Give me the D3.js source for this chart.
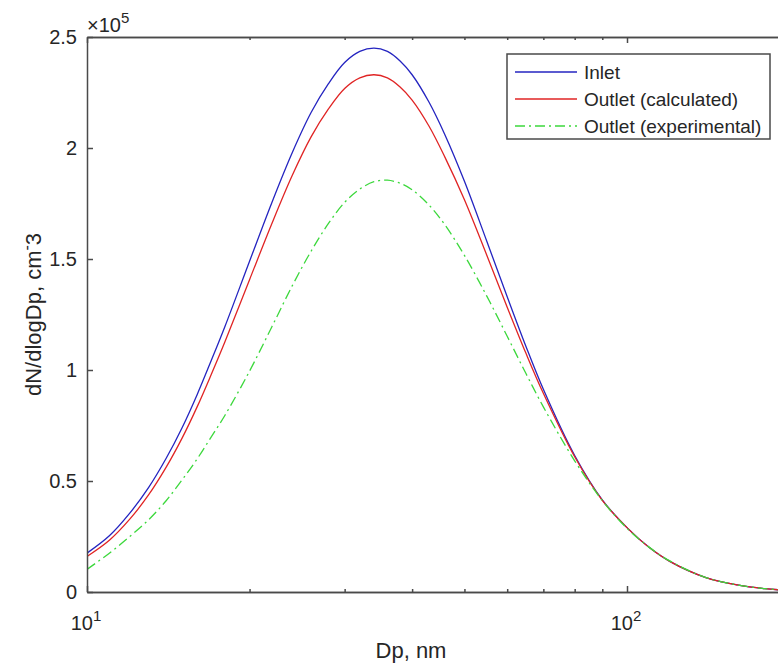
<!DOCTYPE html>
<html>
<head>
<meta charset="utf-8">
<script src="https://d3js.org/d3.v7.min.js"></script>
<style>
  body { margin: 0; background: #fff; }
  svg { display: block; font-family: "Liberation Sans", Arial, sans-serif; }
  .axis path, .axis line { stroke: #4a4a4a; stroke-width: 1.5; }
  .line { fill: none; stroke-width: 1.3; }
</style>
</head>
<body>
<div id="chart"></div>
<script>
(function () {
	"use strict";

	// particle diameter, nm
	var diameters = [10, 11, 12, 13, 14, 15, 16, 17, 18, 20, 22, 24, 26, 28, 30, 32, 34, 36, 38, 40,
		43, 46, 50, 55, 60, 65, 70, 80, 90, 100, 110, 120, 140, 160, 180, 200];

	// dN/dlogDp in units of 1e3 cm^-3
	var inlet = [17.5, 25.3, 35.5, 47, 60, 74, 89, 104.5, 119.5, 149, 175.5, 198, 216, 229, 238.5, 243.5, 245, 243.5, 239.2, 233,
		220.6, 206, 185, 158, 133, 110.6, 91.3, 61.5, 41.5, 29, 20, 13.8, 6.5, 3.2, 1.5, 0.7];
	var outletCalc = [16, 23.3, 32.8, 43.7, 56, 69.3, 83.5, 98.2, 112.6, 140.7, 166, 187.7, 205, 217.6, 226.8, 231.6, 233, 231.6, 227.5, 221.6,
		209.8, 195.9, 176.7, 151.7, 128.3, 107.5, 89.5, 60.9, 41.3, 29, 20, 13.8, 6.5, 3.2, 1.5, 0.7];
	var outletExp = [10.2, 17.5, 25, 32.5, 41, 50.5, 60, 70, 79.5, 99.5, 119.5, 138, 153.5, 166, 175.5, 181.5, 184.8, 185.5, 184.1, 181.2,
		174.3, 165.4, 151.6, 133.3, 115.2, 98.4, 83.4, 59.1, 41.2, 28.7, 20.1, 14, 6.5, 3.2, 1.5, 0.7];

	var seriesNames = ["Inlet", "Outlet (calculated)", "Outlet (experimental)"];
	var seriesColors = ["#2424c0", "#e02424", "#3cd83c"];
	var seriesDash = [null, null, "10,4,2,4"];

	var xMajor = [10, 100];
	var xMinor = [20, 30, 40, 50, 60, 70, 80, 90, 200];
	var yTicks = [0, 0.5, 1, 1.5, 2, 2.5];

	var width = 778, height = 666,
		left = 87, top = 37, bottom = 592;

	var svg = d3.select("#chart").append("svg")
		.attr("width", width)
		.attr("height", height);

	var x = d3.scaleLog().domain([10, 200]).range([left, left + 540 * Math.log10(20)]),
		y = d3.scaleLinear().domain([0, 2.5]).range([bottom, top]),
		right = x.range()[1];

	svg.append("defs").append("clipPath").attr("id", "plotClip")
		.append("rect")
		.attr("x", left).attr("y", top)
		.attr("width", right - left).attr("height", bottom - top);

	// curves
	var rows = [inlet, outletCalc, outletExp];
	rows.forEach(function (vals, i) {
		var data = diameters.map(function (d, k) { return {dp: d, v: vals[k] / 100}; });
		var line = d3.line()
			.curve(d3.curveCatmullRom.alpha(0.5))
			.x(function (d) { return x(d.dp); })
			.y(function (d) { return y(d.v); });
		var p = svg.append("path")
			.datum(data)
			.attr("class", "line")
			.attr("clip-path", "url(#plotClip)")
			.attr("d", line)
			.style("stroke", seriesColors[i]);
		if (seriesDash[i]) p.style("stroke-dasharray", seriesDash[i]);
	});

	// axes, ticks pointing inward like matlab
	function noLabel() { return ""; }
	svg.append("g").attr("class", "axis")
		.attr("transform", "translate(0," + bottom + ")")
		.call(d3.axisBottom(x).tickValues(xMajor).tickSizeInner(-6).tickSizeOuter(0).tickFormat(noLabel));
	svg.append("g").attr("class", "axis")
		.attr("transform", "translate(0," + bottom + ")")
		.call(d3.axisBottom(x).tickValues(xMinor).tickSizeInner(-3).tickSizeOuter(0).tickFormat(noLabel));
	svg.append("g").attr("class", "axis")
		.attr("transform", "translate(0," + top + ")")
		.call(d3.axisTop(x).tickValues(xMajor).tickSizeInner(-6).tickSizeOuter(0).tickFormat(noLabel));
	svg.append("g").attr("class", "axis")
		.attr("transform", "translate(0," + top + ")")
		.call(d3.axisTop(x).tickValues(xMinor).tickSizeInner(-3).tickSizeOuter(0).tickFormat(noLabel));
	svg.append("g").attr("class", "axis")
		.attr("transform", "translate(" + left + ",0)")
		.call(d3.axisLeft(y).tickValues(yTicks).tickSizeInner(-6).tickSizeOuter(0).tickFormat(noLabel));
	svg.append("g").attr("class", "axis")
		.attr("transform", "translate(" + right + ",0)")
		.call(d3.axisRight(y).tickValues(yTicks).tickSizeInner(-6).tickSizeOuter(0).tickFormat(noLabel));

	// y tick labels
	svg.selectAll(".ylab").data(yTicks).enter().append("text")
		.attr("x", left - 10)
		.attr("y", function (d) { return y(d); })
		.attr("dy", "0.35em")
		.attr("text-anchor", "end")
		.attr("font-size", 20)
		.attr("fill", "#262626")
		.text(function (d) { return d; });

	// x tick labels 10^n
	xMajor.forEach(function (v) {
		var t = svg.append("text")
			.attr("x", x(v) - 1)
			.attr("y", bottom + 38)
			.attr("text-anchor", "middle")
			.attr("font-size", 20)
			.attr("fill", "#262626");
		t.append("tspan").text("10");
		t.append("tspan").attr("dy", -9).attr("font-size", 15).text(Math.round(Math.log10(v)));
	});

	// exponent
	var ex = svg.append("text")
		.attr("x", left)
		.attr("y", 32)
		.attr("font-size", 20)
		.attr("fill", "#262626");
	ex.append("tspan").text("\u00d710");
	ex.append("tspan").attr("dy", -9).attr("font-size", 15).text("5");

	// axis titles
	svg.append("text")
		.attr("x", 411)
		.attr("y", 658)
		.attr("text-anchor", "middle")
		.attr("font-size", 22)
		.attr("fill", "#262626")
		.text("Dp, nm");

	var yl = svg.append("text")
		.attr("transform", "translate(41," + ((top + bottom) / 2) + ") rotate(-90)")
		.attr("text-anchor", "middle")
		.attr("font-size", 22)
		.attr("fill", "#262626");
	yl.append("tspan").text("dN/dlogDp, cm");
	yl.append("tspan").attr("dy", -9).attr("font-size", 16).text("-");
	yl.append("tspan").attr("dy", 9).text("3");

	// legend
	var lg = svg.append("g").attr("transform", "translate(507,54)");
	lg.append("rect")
		.attr("width", 263).attr("height", 85)
		.attr("fill", "#fff")
		.attr("stroke", "#4a4a4a")
		.attr("stroke-width", 1.5);
	seriesNames.forEach(function (name, i) {
		var cy = 18 + i * 27;
		var ln = lg.append("line")
			.attr("x1", 8).attr("x2", 70)
			.attr("y1", cy).attr("y2", cy)
			.attr("stroke", seriesColors[i])
			.attr("stroke-width", 1.3);
		if (seriesDash[i]) ln.attr("stroke-dasharray", seriesDash[i]);
		lg.append("text")
			.attr("x", 77)
			.attr("y", cy)
			.attr("dy", "0.35em")
			.attr("font-size", 19)
			.attr("fill", "#262626")
			.text(name);
	});
})();
</script>
</body>
</html>
